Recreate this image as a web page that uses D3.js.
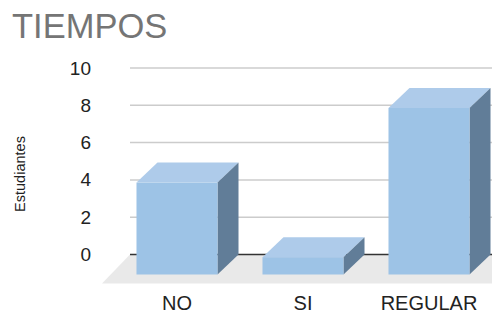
<!DOCTYPE html>
<html>
<head>
<meta charset="utf-8" />
<title>TIEMPOS</title>
<script src="https://cdn.jsdelivr.net/npm/d3@7"></script>
<style>
  body { margin: 0; background: #fff; }
  text { font-family: "Liberation Sans", Arial, sans-serif; }
</style>
</head>
<body>
<script>
// datos
var categorias = ["NO", "SI", "REGULAR"];
var valores = [4, 0, 8];
var ticksY = [0, 2, 4, 6, 8, 10];

var W = 492, H = 313;
// profundidad del efecto 3d
var dx = 21, dy = 20;

var svg = d3.select("body").append("svg")
    .attr("width", W)
    .attr("height", H);

var x = d3.scaleBand()
  .domain(categorias)
  .range([114, 492])
  .paddingInner(0.357)
  .paddingOuter(0.1785);

var y = d3.scaleLinear()
  .domain([0, 10])
  .range([254.5, 68]);

// titulo
svg.append("text")
  .attr("x", 12)
  .attr("y", 38)
  .attr("font-size", 34.5)
  .attr("fill", "#757575")
  .text("TIEMPOS");

// suelo
svg.append("path")
  .attr("d", "M130," + y(0) + "L" + W + "," + y(0) + "L" + W + ",283.5L102,283.5Z")
  .attr("fill", "#e9e9e9");

// lineas de la rejilla
svg.selectAll(".grid")
  .data(ticksY.filter(function(d) { return d > 0; }))
  .enter()
  .append("line")
    .attr("x1", 130)
    .attr("x2", W)
    .attr("y1", function(d) { return y(d); })
    .attr("y2", function(d) { return y(d); })
    .attr("stroke", "#cccccc")
    .attr("stroke-width", 1.5);

svg.append("line")
  .attr("x1", 130).attr("x2", W)
  .attr("y1", y(0)).attr("y2", y(0))
  .attr("stroke", "#333")
  .attr("stroke-width", 1.3);

// eje y
svg.append("g")
  .attr("transform", "translate(91,0)")
  .call(d3.axisLeft(y).tickValues(ticksY).tickSize(0).tickPadding(0))
  .call(function(g) { g.select(".domain").remove(); })
  .selectAll("text")
    .attr("font-family", "Liberation Sans, Arial, sans-serif")
    .attr("font-size", 19)
    .attr("fill", "#222");

svg.append("text")
  .attr("transform", "translate(25,174)rotate(-90)")
  .attr("text-anchor", "middle")
  .attr("font-size", 14.5)
  .attr("fill", "#222")
  .text("Estudiantes");

// barras
var datos = categorias.map(function(c, i) { return {cat: c, valor: valores[i]}; });
var bw = x.bandwidth();
var base = y(0) + dy;

var barras = svg.selectAll(".bar")
  .data(datos)
  .enter()
  .append("g");

// cara superior
barras.append("path")
  .attr("fill", "#aecbea")
  .attr("d", function(d) {
    var x0 = x(d.cat), t = y(d.valor) + 2.7;
    return "M" + x0 + "," + t + "L" + (x0 + dx) + "," + (t - dy) +
      "L" + (x0 + bw + dx) + "," + (t - dy) + "L" + (x0 + bw) + "," + t + "Z";
  });

// cara lateral
barras.append("path")
  .attr("fill", "#617d98")
  .attr("d", function(d) {
    var x1 = x(d.cat) + bw, t = y(d.valor) + 2.7;
    return "M" + x1 + "," + t + "L" + (x1 + dx) + "," + (t - dy) +
      "L" + (x1 + dx) + "," + (base - dy) + "L" + x1 + "," + base + "Z";
  });

// cara frontal
barras.append("rect")
  .attr("fill", "#9dc3e6")
  .attr("x", function(d) { return x(d.cat); })
  .attr("y", function(d) { return y(d.valor) + 2.7; })
  .attr("width", bw)
  .attr("height", function(d) { return base - (y(d.valor) + 2.7); });

// etiquetas x
svg.selectAll(".lab")
  .data(categorias)
  .enter()
  .append("text")
    .attr("x", function(d) { return x(d) + bw / 2; })
    .attr("y", 309.5)
    .attr("text-anchor", "middle")
    .attr("font-size", 20)
    .attr("fill", "#222")
    .text(function(d) { return d; });
</script>
</body>
</html>
